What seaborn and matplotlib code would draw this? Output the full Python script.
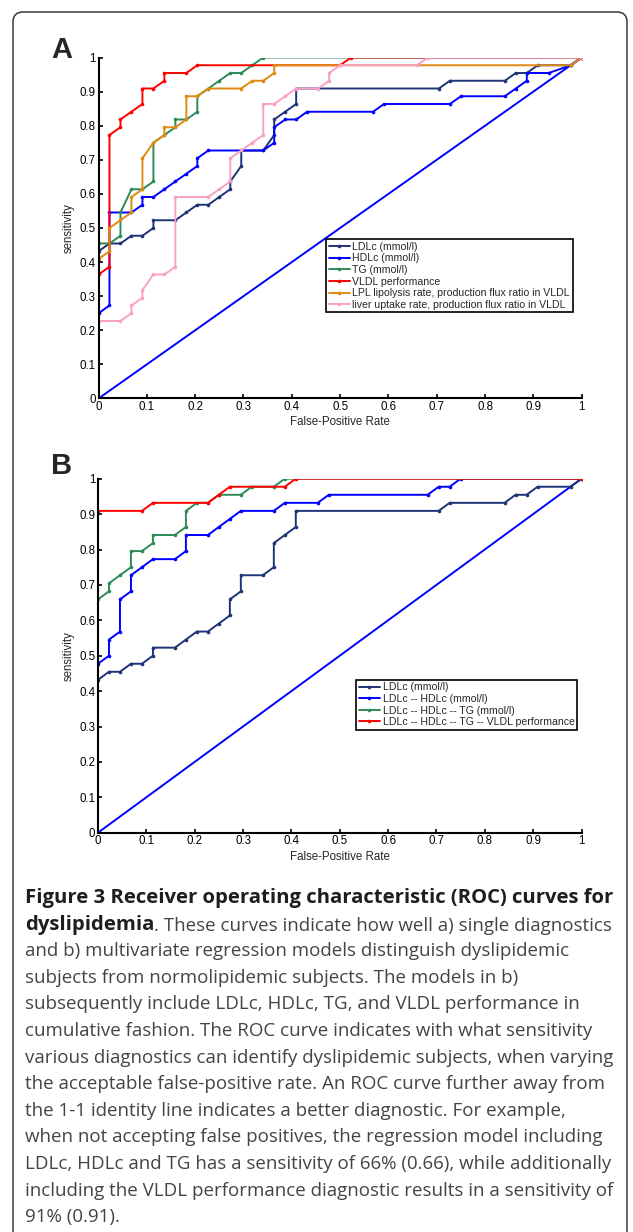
import matplotlib
matplotlib.use("Agg")
import matplotlib.pyplot as plt
import matplotlib.transforms as mtransforms
import pandas as pd
import seaborn as sns
from matplotlib.lines import Line2D
from matplotlib.patches import FancyBboxPatch

# ---------------------------------------------------------------------------
# Data: ROC vertices as (false positives, true positives) counts
# ---------------------------------------------------------------------------
N_NEG = 44
N_POS = 44
IDENTITY = [0.0, 1.0]

A_LABELS = [
    "LDLc (mmol/l)",
    "HDLc (mmol/l)",
    "TG (mmol/l)",
    "VLDL performance",
    "LPL lipolysis rate, production flux ratio in VLDL",
    "liver uptake rate, production flux ratio in VLDL",
]
A_LDLC = [(0, 0), (0, 19), (1, 20), (2, 20), (3, 21), (4, 21), (5, 22), (5, 23), (7, 23),
          (8, 24), (9, 25), (10, 25), (11, 26), (12, 27), (12, 28), (13, 30), (13, 32),
          (15, 32), (16, 34), (16, 36), (17, 37), (18, 38), (18, 40), (31, 40), (32, 41),
          (37, 41), (38, 42), (39, 42), (40, 43), (43, 43), (44, 44)]
A_HDLC = [(0, 0), (0, 11), (1, 12), (1, 24), (3, 24), (4, 25), (4, 26), (5, 26), (6, 27),
          (7, 28), (8, 29), (9, 30), (9, 31), (10, 32), (15, 32), (16, 33), (16, 35),
          (17, 36), (18, 36), (19, 37), (25, 37), (26, 38), (32, 38), (33, 39), (37, 39),
          (38, 40), (39, 41), (39, 42), (41, 42), (43, 43), (44, 44)]
A_TG = [(0, 0), (0, 20), (1, 20), (2, 21), (2, 24), (3, 27), (4, 27), (5, 28), (5, 33),
        (6, 34), (7, 35), (7, 36), (8, 36), (9, 37), (9, 39), (10, 40), (11, 41), (12, 42),
        (13, 42), (14, 43), (15, 44), (44, 44)]
A_VLDL = [(0, 0), (0, 16), (1, 17), (1, 34), (2, 35), (2, 36), (3, 37), (4, 38), (4, 40),
          (5, 40), (6, 41), (6, 42), (8, 42), (9, 43), (22, 43), (23, 44), (44, 44)]
A_LPL = [(0, 0), (0, 18), (1, 19), (1, 22), (2, 23), (3, 24), (3, 26), (4, 27), (4, 31),
         (5, 33), (6, 34), (6, 35), (7, 35), (8, 36), (8, 39), (9, 39), (10, 40), (13, 40),
         (14, 41), (15, 41), (16, 42), (16, 43), (43, 43), (44, 44)]
A_LIVER = [(0, 0), (0, 10), (2, 10), (3, 11), (3, 12), (4, 13), (4, 14), (5, 16), (6, 16),
           (7, 17), (7, 26), (10, 26), (11, 27), (12, 28), (12, 31), (13, 32), (14, 33),
           (15, 34), (15, 38), (16, 38), (17, 39), (18, 40), (20, 40), (21, 41), (21, 42),
           (22, 43), (29, 43), (30, 44), (44, 44)]
A_COLORS = ["#1f3377", "#0000ff", "#2e8b57", "#ff0000", "#e08a14", "#f9a0c8"]

B_LABELS = [
    "LDLc (mmol/l)",
    "LDLc -- HDLc (mmol/l)",
    "LDLc -- HDLc -- TG (mmol/l)",
    "LDLc -- HDLc -- TG -- VLDL performance",
]
B_LDLC = [(0, 0), (0, 19), (1, 20), (2, 20), (3, 21), (4, 21), (5, 22), (5, 23), (7, 23),
          (8, 24), (9, 25), (10, 25), (11, 26), (12, 27), (12, 29), (13, 30), (13, 32),
          (15, 32), (16, 33), (16, 36), (17, 37), (18, 38), (18, 40), (31, 40), (32, 41),
          (37, 41), (38, 42), (39, 42), (40, 43), (43, 43), (44, 44)]
B_HDLC = [(0, 0), (0, 21), (1, 22), (1, 24), (2, 25), (2, 29), (3, 30), (3, 32), (4, 33),
          (5, 34), (7, 34), (8, 35), (8, 37), (10, 37), (11, 38), (12, 39), (13, 40),
          (16, 40), (17, 41), (20, 41), (21, 42), (30, 42), (31, 43), (32, 43), (33, 44),
          (44, 44)]
B_TG = [(0, 0), (0, 29), (1, 30), (1, 31), (2, 32), (3, 33), (3, 35), (4, 35), (5, 36),
        (5, 37), (7, 37), (8, 38), (8, 40), (9, 41), (10, 41), (11, 42), (13, 42), (14, 43),
        (16, 43), (17, 44), (44, 44)]
B_VLDL = [(0, 0), (0, 40), (4, 40), (5, 41), (10, 41), (11, 42), (12, 43), (17, 43),
          (18, 44), (44, 44)]
B_COLORS = ["#1f3377", "#0000ff", "#2e8b57", "#ff0000"]

TICKS = [0, 0.1, 0.2, 0.3, 0.4, 0.5, 0.6, 0.7, 0.8, 0.9, 1]
TICK_LABELS = ["0", "0.1", "0.2", "0.3", "0.4", "0.5", "0.6", "0.7", "0.8", "0.9", "1"]

CAPTION = [
    "Figure 3 Receiver operating characteristic (ROC) curves for",
    ". These curves indicate how well a) single diagnostics",
    "and b) multivariate regression models distinguish dyslipidemic",
    "subjects from normolipidemic subjects. The models in b)",
    "subsequently include LDLc, HDLc, TG, and VLDL performance in",
    "cumulative fashion. The ROC curve indicates with what sensitivity",
    "various diagnostics can identify dyslipidemic subjects, when varying",
    "the acceptable false-positive rate. An ROC curve further away from",
    "the 1-1 identity line indicates a better diagnostic. For example,",
    "when not accepting false positives, the regression model including",
    "LDLc, HDLc and TG has a sensitivity of 66% (0.66), while additionally",
    "including the VLDL performance diagnostic results in a sensitivity of",
    "91% (0.91).",
]

W, H = 633, 1232

sns.set_style("ticks")
plt.rcParams["font.family"] = ["Liberation Sans", "DejaVu Sans"]


def roc_frame(curves, labels):
    rows = []
    for lab, pts in zip(labels, curves):
        for i, (fp, tp) in enumerate(pts):
            rows.append({"curve": lab, "step": i, "fpr": fp / N_NEG, "tpr": tp / N_POS})
    return pd.DataFrame(rows)


def px(x, y):
    """pixel position (from top-left) -> figure fraction"""
    return x / W, 1 - y / H


def draw_panel(ax, curves, labels, colors, leg_anchor):
    sns.lineplot(x=IDENTITY, y=IDENTITY, ax=ax, color="#0000ff", linewidth=1.4,
                 legend=False)
    df = roc_frame(curves, labels)
    sns.lineplot(data=df, x="fpr", y="tpr", hue="curve", hue_order=labels,
                 palette=colors, sort=False, estimator=None, ax=ax, legend=False,
                 linewidth=1.4, marker="o", markersize=2.6, markeredgewidth=0)
    ax.set_xlim(0, 1)
    ax.set_ylim(0, 1)
    ax.set_xticks(TICKS, TICK_LABELS)
    ax.set_yticks(TICKS, TICK_LABELS)
    ax.tick_params(direction="in", length=3, width=1.2, labelsize=8.3, pad=2,
                   colors="black")
    for side in ["left", "bottom"]:
        ax.spines[side].set_linewidth(1.5)
        ax.spines[side].set_color("black")
    sns.despine(ax=ax)
    ax.set_xlabel("False-Positive Rate", fontsize=8.3)
    ax.set_ylabel("sensitivity", fontsize=8.3)
    ax.yaxis.set_label_coords(-0.049, 0.5)
    handles = [Line2D([], [], color=c, linewidth=1.4, marker="o", markersize=2.6,
                      markeredgewidth=0) for c in colors]
    leg = ax.legend(handles, labels, loc="upper left", bbox_to_anchor=leg_anchor,
                    borderaxespad=0, fontsize=7.6, frameon=True, fancybox=False,
                    framealpha=1, edgecolor="black", handlelength=2.0,
                    handletextpad=0.25, labelspacing=0.15, borderpad=0.25)
    leg.get_frame().set_linewidth(1.2)


fig = plt.figure(figsize=(W / 100, H / 100), dpi=100)

# rounded figure frame
frame = FancyBboxPatch((13, -20), 614, H - 12 + 20, boxstyle="round,pad=0,rounding_size=10",
                       transform=mtransforms.IdentityTransform(), facecolor="none",
                       edgecolor="#3a3a3a", linewidth=1.1)
fig.patches.append(frame)

ax_a = fig.add_axes([98.5 / W, 1 - 398.5 / H, 483.2 / W, 341 / H])
draw_panel(ax_a, [A_LDLC, A_HDLC, A_TG, A_VLDL, A_LPL, A_LIVER], A_LABELS, A_COLORS,
           (0.471, 0.467))
ax_a.xaxis.set_label_coords(0.5, -0.052)

ax_b = fig.add_axes([98 / W, 1 - 832.7 / H, 483.5 / W, 354 / H])
draw_panel(ax_b, [B_LDLC, B_HDLC, B_TG, B_VLDL], B_LABELS, B_COLORS, (0.534, 0.432))
ax_b.xaxis.set_label_coords(0.5, -0.052)

fig.text(*px(61.5, 50), "A", fontsize=21, fontweight="bold", ha="center", va="center")
fig.text(*px(62, 466), "B", fontsize=21, fontweight="bold", ha="center", va="center")

# caption
cap_font = ["Open Sans", "DejaVu Sans"]
y0, dy = 898, 26.6
for i, line in enumerate(CAPTION):
    x, y = px(25, y0 + i * dy)
    if i == 0:
        fig.text(x, y, line, fontsize=14.6, fontweight="bold", family=cap_font,
                 color="#1e1e1e", va="center")
    elif i == 1:
        t = fig.text(x, y, "dyslipidemia", fontsize=14.6, fontweight="bold",
                     family=cap_font, color="#1e1e1e", va="center")
        ax_b.annotate(line, xy=(1, 0), xycoords=t, va="bottom", ha="left",
                      fontsize=13.5, family=cap_font, color="#444444",
                      annotation_clip=False)
    else:
        fig.text(x, y, line, fontsize=13.5, family=cap_font, color="#444444",
                 va="center")

fig.savefig("out.png", dpi=100)
